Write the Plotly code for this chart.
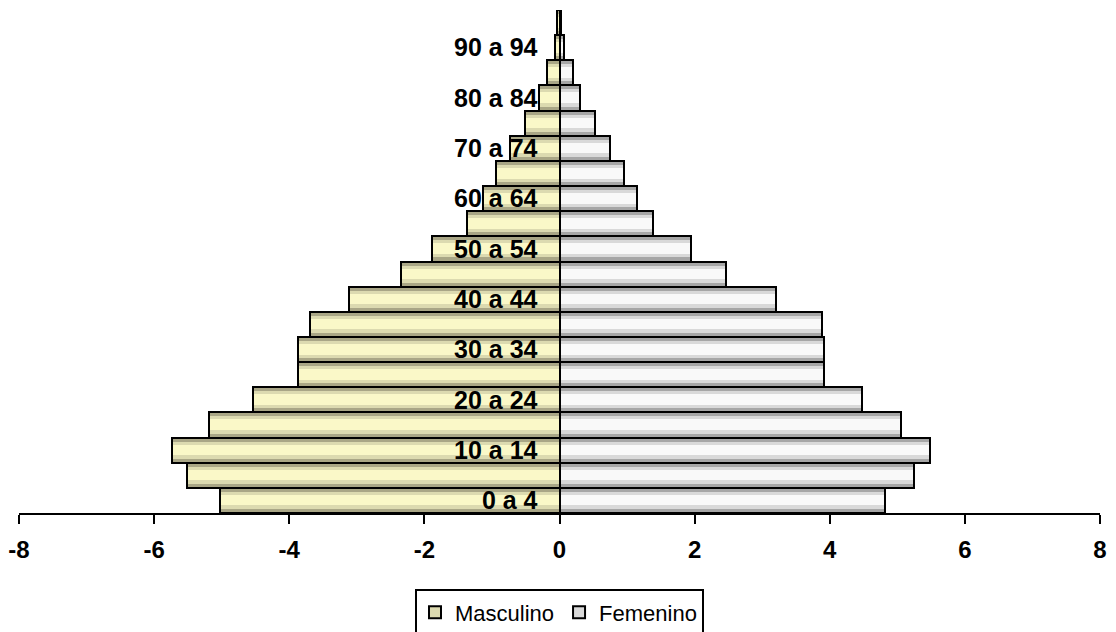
import plotly.graph_objects as go

age_groups = ["0 a 4", "5 a 9", "10 a 14", "15 a 19", "20 a 24", "25 a 29", "30 a 34",
              "35 a 39", "40 a 44", "45 a 49", "50 a 54", "55 a 59", "60 a 64", "65 a 69",
              "70 a 74", "75 a 79", "80 a 84", "85 a 89", "90 a 94", "95 y más"]
masculino = [-5.03, -5.51, -5.74, -5.19, -4.53, -3.87, -3.87, -3.70, -3.11, -2.35,
             -1.89, -1.37, -1.13, -0.94, -0.73, -0.51, -0.31, -0.19, -0.07, -0.04]
femenino = [4.82, 5.25, 5.49, 5.06, 4.47, 3.92, 3.92, 3.88, 3.20, 2.46,
            1.94, 1.38, 1.14, 0.95, 0.75, 0.52, 0.31, 0.20, 0.07, 0.02]
tick_labels = age_groups[::2]
x_ticks = [-8, -6, -4, -2, 0, 2, 4, 6, 8]

FONT = "Liberation Sans, Arial, sans-serif"

series = [
    ("Masculino", masculino, {"dark": "#A9A686", "mid": "#DCDAB0", "light": "#FAF8C8"}),
    ("Femenino", femenino, {"dark": "#A6A6A6", "mid": "#D9D9D9", "light": "#F9F9F9"}),
]

fig = go.Figure()
for name, vals, col in series:
    fig.add_trace(go.Bar(x=vals, y=age_groups, orientation="h", name=name, width=1,
                         marker=dict(color=col["mid"], line=dict(color="black", width=2)),
                         showlegend=True, legendgroup=name))
    for off, w, c in [(-0.5, 0.16, col["dark"]), (0.34, 0.16, col["dark"]), (-0.2, 0.42, col["light"])]:
        fig.add_trace(go.Bar(x=vals, y=age_groups, orientation="h", width=w, offset=off,
                             marker=dict(color=c, line=dict(width=0)),
                             showlegend=False, legendgroup=name, hoverinfo="skip"))
    fig.add_trace(go.Bar(x=vals, y=age_groups, orientation="h", width=1,
                         marker=dict(color="rgba(0,0,0,0)", line=dict(color="black", width=2)),
                         showlegend=False, legendgroup=name, hoverinfo="skip"))

fig.update_layout(
    width=1116, height=632,
    barmode="overlay",
    bargap=0,
    plot_bgcolor="white", paper_bgcolor="white",
    margin=dict(l=19, r=16, t=10, b=119, autoexpand=False),
    font=dict(family=FONT, color="black"),
    xaxis=dict(range=[-8, 8], tickvals=x_ticks, ticktext=[str(v) for v in x_ticks],
               ticks="outside", ticklen=9, tickwidth=2, tickcolor="black",
               showline=True, linecolor="black", linewidth=2,
               showgrid=False, zeroline=False, domain=[0, 1], automargin=False,
               ticklabelstandoff=5,
               tickfont=dict(family=FONT, size=24, color="black", weight="bold")),
    yaxis=dict(type="category", categoryorder="array", categoryarray=age_groups,
               range=[-0.5, 19.5], tickvals=tick_labels, ticktext=tick_labels,
               anchor="free", position=0.5, side="left", automargin=False,
               showline=True, linecolor="black", linewidth=2,
               ticks="", ticklabelstandoff=16, showgrid=False, zeroline=False,
               tickfont=dict(family=FONT, size=25, color="black", weight="bold")),
    legend=dict(orientation="h", x=0.5, xanchor="center", y=-0.152, yanchor="top",
                bordercolor="black", borderwidth=2, bgcolor="white",
                font=dict(family=FONT, size=22, color="black"),
                tracegroupgap=0),
)

fig.write_html("out.html", config={"displayModeBar": False},
               post_script="document.body.style.margin='0';document.body.style.overflow='hidden';")
